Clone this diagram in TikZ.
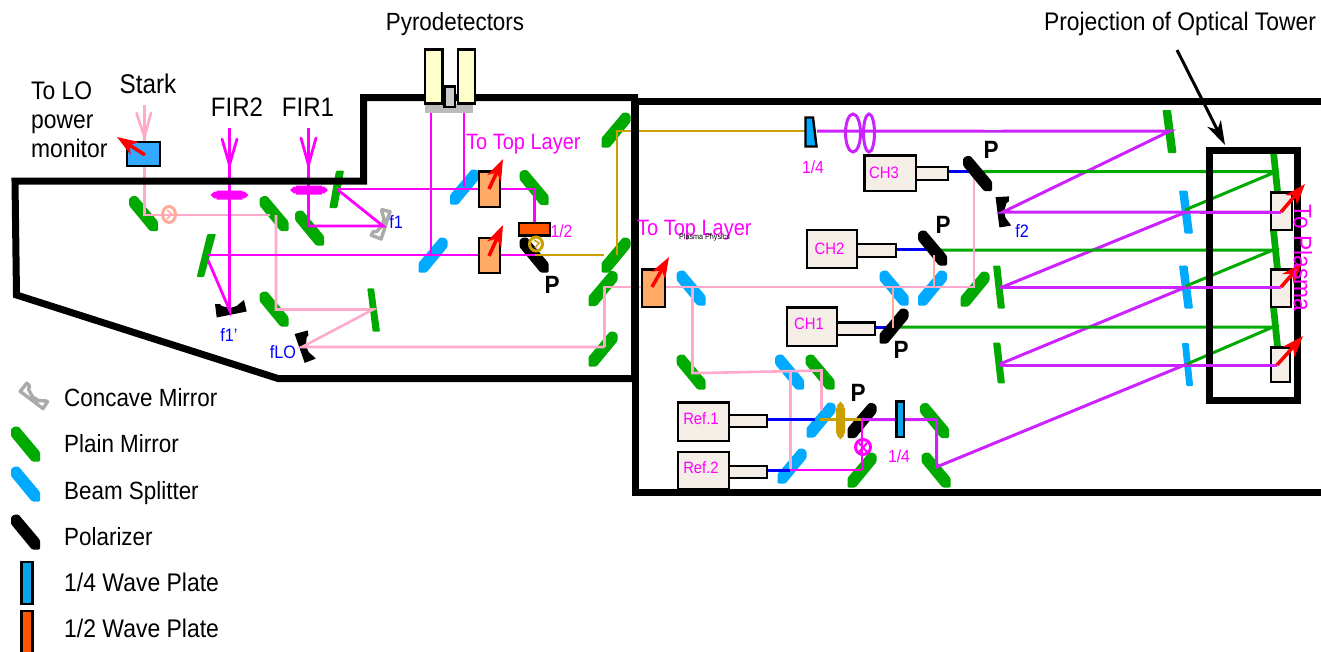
\documentclass[tikz,border=0pt]{standalone}
\usepackage{fontspec}
\setmainfont[FakeStretch=0.9]{Liberation Sans}
\usetikzlibrary{arrows.meta}
\definecolor{mgreen}{HTML}{00AA00}
\definecolor{mblue}{HTML}{00AAFF}
\definecolor{mpink}{HTML}{FFAACC}
\definecolor{mmag}{HTML}{FF00FF}
\definecolor{mpur}{HTML}{CC22FF}
\definecolor{mgold}{HTML}{CCA000}
\definecolor{msal}{HTML}{FFAA99}
\definecolor{mor}{HTML}{FFAA66}
\definecolor{mbei}{HTML}{F5EEE6}
\definecolor{mhalf}{HTML}{FF5500}
\definecolor{mqw}{HTML}{0AA5E8}
\definecolor{mpyro}{HTML}{FFFFCC}
\definecolor{mgray}{HTML}{AAAAAA}
\definecolor{mstark}{HTML}{33AAFF}
\tikzset{
  x=1pt,y=-1pt,
  wall/.style={line width=7pt,draw=black,miter limit=10},
  pk/.style={line width=2.6pt,draw=mpink},
  mg/.style={line width=2.8pt,draw=mmag},
  pu/.style={line width=3pt,draw=mpur},
  gr/.style={line width=3pt,draw=mgreen},
  go/.style={line width=2.8pt,draw=mgold},
  bl/.style={line width=3pt,draw=blue},
  sa/.style={line width=2.6pt,draw=msal},
  redarr/.style={line width=3.5pt,draw=red,-{Stealth[length=21pt,width=15pt,inset=6pt]}},
  boxed/.style={draw=black,line width=2.4pt},
  lab/.style={font=\fontsize{24.9}{28}\selectfont,inner sep=0pt,anchor=base},
  leg/.style={lab,anchor=base west},
  mglab/.style={font=\fontsize{22.2}{26}\selectfont,text=mmag,inner sep=0pt,anchor=base west},
  small/.style={font=\fontsize{17.5}{20}\selectfont,text=mmag,inner sep=0pt},
  chlab/.style={font=\fontsize{16.5}{19}\selectfont,text=mmag,inner sep=0pt},
  blab/.style={font=\fontsize{18}{21}\selectfont,text=blue,inner sep=0pt},
  plab/.style={font=\fontsize{25}{28}\selectfont\bfseries,inner sep=0pt},
  band/.pic={\fill[#1,rounded corners=1.2pt] (-14.5,-15)--(-11,-17.5)--(-7,-17.5)--(14.5,8)--(14.5,17.5)--(6.5,17.5)--(-14.5,-8)--cycle;},
  bandv/.pic={\fill[#1,rounded corners=1pt] (-7,-21.5)--(1.5,-21.5)--(7,21.5)--(-1.5,21.5)--cycle;},
  concave/.pic={\fill[#1] (-16,-5)--(-14.3,8.5)--(15.7,2.5)--(13,-9)--(10.7,-7.3)--(5.7,-3)--(-1,-1)--(-9.3,-3)--(-11,-5)--cycle;},
  concaveg/.pic={\draw[#1,line width=3.4pt,line join=round] (-15,-4)--(-13.5,6.5)--(14.7,1)--(12.5,-7)--(10.7,-6)--(5.7,-1)--(-1,1)--(-9.3,-1)--(-11,-4)--cycle;},
  flatlens/.pic={\fill[#1] (-19,0)--(-15,-3.5)--(-13,-3)--(-13,-4.5)--(13,-4.5)--(13,-3)--(15,-3.5)--(19,0)--(15,3.5)--(13,3)--(13,4.5)--(-13,4.5)--(-13,3)--(-15,3.5)--cycle;},
}
\begin{document}
\begin{tikzpicture}
\useasboundingbox (0,0) rectangle (1321,651);

% legend symbols
\pic[rotate=-48] at (34,397) {concaveg=mgray};
\pic at (25.5,444) {band=mgreen};
\pic at (25.5,484) {band=mblue};
\pic at (25.5,532) {band=black};
\draw[boxed,fill=mqw] (21.5,562) rectangle (32.5,604);
\draw[boxed,fill=mhalf] (21.5,611) rectangle (32.5,655);

% optical elements, left room
\pic at (143.5,213.5) {band=mgreen};
\pic at (274,213.5) {band=mgreen};
\pic at (309.5,228) {band=mgreen};
\pic at (274,309) {band=mgreen};
\pic at (534,187.5) {band=mgreen};
\pic[xscale=-1] at (616,130) {band=mgreen};
\pic[xscale=-1] at (616,255) {band=mgreen};
\pic[xscale=-1] at (603,288.5) {band=mgreen};
\pic[xscale=-1] at (603,349) {band=mgreen};
\fill[mgreen,rounded corners=1pt] (207.3,234)--(216,234)--(204,277)--(196.7,277)--cycle;
\fill[mgreen,rounded corners=1pt] (336,170.7)--(344,170.7)--(337.3,208)--(329.3,208)--cycle;
\fill[mgreen,rounded corners=1pt] (367.3,288.3)--(374,288.3)--(380,331.7)--(372.7,331.7)--cycle;
\pic[xscale=-1] at (464.5,187) {band=mblue};
\pic[xscale=-1] at (433,255) {band=mblue};
\pic at (534,255) {band=black};
\pic at (231,309) {concave=black};
\pic[rotate=-82] at (305,347) {concave=black};
\pic[rotate=61] at (382,224) {concaveg=mgray};
\pic at (229.5,195) {flatlens=mmag};
\pic at (309,190) {flatlens=mmag};

% optical elements, right room
\pic at (691,288) {band=mblue};
\pic at (691,372) {band=mgreen};
\pic at (789.5,372) {band=mblue};
\pic at (820,372) {band=mgreen};
\pic[xscale=-1] at (821,420) {band=mblue};
\pic[xscale=-1] at (792,466) {band=mblue};
\pic[xscale=-1] at (862,470) {band=mgreen};
\pic at (934.5,420.5) {band=mgreen};
\pic at (936,470) {band=mgreen};
\pic at (894,288) {band=mblue};
\pic[xscale=-1] at (932.5,288) {band=mblue};
\pic[xscale=-1] at (975,289) {band=mgreen};
\pic at (1169.5,131.5) {bandv=mgreen};
\pic[xscale=.85] at (999,287) {bandv=mgreen};
\pic[xscale=.85,yscale=.95] at (999,363) {bandv=mgreen};
\pic at (1186,212) {bandv=mblue};
\pic at (1186,287) {bandv=mblue};
\pic[xscale=.8] at (1187.5,364.5) {bandv=mblue};
\pic[xscale=.8] at (1275.5,172) {bandv=mgreen};
\pic[xscale=.8] at (1275.5,250) {bandv=mgreen};
\pic[xscale=.8] at (1275.5,327) {bandv=mgreen};
\pic[rotate=-94] at (1003,212) {concave=black};
\pic[rotate=90] at (840.5,420.5) {flatlens=mgold};

% beams: Stark and LO
\draw[pk] (144.5,105)--(144.5,142);
\draw[pk,line cap=round] (136.5,113)--(144.5,137)--(151,113);
\draw[pk] (144.5,166)--(144.5,215)--(270,215);
\draw[pk] (276,215)--(276,309.5)--(373,309.5)--(302,347)--(604.5,347);
\draw[pk] (604.5,347)--(604.5,287)--(973,287);
\draw[pk] (692.5,287)--(692.5,373)--(702,373)--(821.5,370.5)--(821.5,410);
\draw[pk] (790.5,371)--(790.5,470);
\draw[pk] (974,288)--(974,171);
\draw[sa] (934,255)--(934,287);
\draw[sa] (893,286)--(893,328);

% beams: FIR
\draw[mg] (229.5,128)--(229.5,310)--(208,260);
\draw[mg,line cap=round] (222,139)--(229.5,165)--(237,139);
\draw[mg] (308.5,128)--(308.5,226)--(383,226)--(338,190);
\draw[mg,line cap=round] (301,138)--(308.5,165)--(316,138);
\draw[mg] (208,255)--(535,255);
\draw[mg] (338,189)--(534.5,189)--(534.5,224);
\draw[mg] (431,112)--(431,255);
\draw[mg] (464,112)--(464,187);

% beams: gold
\draw[go] (534,255)--(604,255);
\draw[go] (617,255)--(617,131)--(805,131);

% beams: purple
\draw[pu] (817,131)--(1170,131)--(1003,212)--(1275,212);
\draw[pu] (861,419.5)--(936.5,419.5)--(936.5,467)--(1187,364);
\draw[pu] (1000,288)--(1186,212);
\draw[pu] (1000,287.5)--(1280,287.5);
\draw[pu] (1000,364)--(1186,287);
\draw[pu] (1000,365)--(1278,365);
\draw[white,line width=1.5pt] (984,129.4)--(1002,129.4);
\draw[mg] (790,470)--(862,470);

% beams: green
\draw[gr] (982,171.5)--(1273,171.5)--(1273,173)--(1185,210);
\draw[gr] (940,250)--(1273,250)--(1186,286);
\draw[gr] (897,327)--(1273,327)--(1187,364);

% beams: detector blue
\draw[bl] (767,419.5)--(815,419.5);
\draw[bl] (767,470)--(790,470);
\draw[bl] (896,249.5)--(930,249.5);
\draw[bl] (875,327)--(888,327);
\draw[bl] (948,171.5)--(970,171.5);

% polarizers on top of beams
\pic at (932.5,248) {band=black};
\pic[xscale=-1] at (894,326) {band=black};
\pic at (977.5,173.5) {band=black};
\pic[xscale=-1] at (862,420.5) {band=black};
\draw[go] (820,419.5)--(861,419.5);
\draw[pu] (861,419.5)--(880,419.5);
\draw[mg] (862,419.5)--(862,470);
\draw[sa] (893,286)--(893,328);
\draw[sa] (934,255)--(934,287);
\draw[pk] (974,288)--(974,180);
\draw[mg] (525,255)--(535,255);

% walls
\draw[wall] (363.5,97.5)--(634.5,97.5)--(634.5,378.5)--(278,378.5)--(16.5,295)--(15,181)--(363.5,181)--cycle;
\draw[wall] (1321,101)--(635,101)--(635,492)--(1321,492);
\draw[wall] (1209.5,150.5) rectangle (1297.5,400.5);

% pyrodetectors
\fill[mgray!80] (425,104) rectangle (473,113);
\draw[boxed,fill=mpyro] (425,49.5) rectangle (442.5,103.5);
\draw[boxed,fill=mpyro] (458,49.5) rectangle (475,103.5);
\draw[boxed,fill=black!20] (444.5,86.5) rectangle (455,107);

% half wave plate and rotating circles
\draw[boxed,fill=mhalf] (519,223) rectangle (550,235.5);
\draw[mgold,line width=3pt] (536,244) ellipse (6.5 and 7);
\draw[mgold,line width=1.5pt] (534,240)--(539,243)--(535,248);
\draw[msal,line width=3pt] (169,214.5) ellipse (6.5 and 8);
\draw[msal,line width=1.5pt] (167,210)--(172,214)--(167,219);
\draw[mmag,line width=3pt] (863,447) ellipse (7.5 and 7.5);
\draw[mmag,line width=2pt] (859,443)--(867,452) (867,443)--(859,452);

% lenses and plates
\draw[mpur,line width=3pt] (853,133) ellipse (7.5 and 19);
\draw[mpur,line width=3pt] (869,133) ellipse (5.5 and 19);
\draw[boxed,fill=mblue] (805.5,117.5)--(813,117.5)--(816.5,146.5)--(805.5,146.5)--cycle;
\draw[boxed,fill=mqw] (896.5,401.5) rectangle (904,437);

% boxes
\draw[boxed,fill=mstark] (127,142) rectangle (160,166);
\draw[boxed,fill=mor] (479,171.5) rectangle (500,207);
\draw[boxed,fill=mor] (479,238) rectangle (500,273);
\draw[boxed,fill=mor] (642,269.5) rectangle (665,307);
\draw[boxed,fill=mbei] (807,230) rectangle (857,268);
\draw[boxed,fill=mbei] (857,244) rectangle (896,257);
\draw[boxed,fill=mbei] (787,307.5) rectangle (837,346);
\draw[boxed,fill=mbei] (837,322.5) rectangle (875,335);
\draw[boxed,fill=mbei] (864.5,155.5) rectangle (916,191);
\draw[boxed,fill=mbei] (916,167) rectangle (948,180);
\draw[boxed,fill=mbei] (678,402.5) rectangle (729,441);
\draw[boxed,fill=mbei] (729,415) rectangle (767,427);
\draw[boxed,fill=mbei] (678,452) rectangle (729,489);
\draw[boxed,fill=mbei] (729,466) rectangle (767,478);
\draw[boxed,fill=mbei] (1271,192.5) rectangle (1292,230);
\draw[boxed,fill=mbei] (1271,269.5) rectangle (1291,307);
\draw[boxed,fill=mbei] (1271,347.5) rectangle (1290,382);
\draw[pu] (1200,212)--(1281,212);
\draw[pu] (1200,287.5)--(1281,287.5);
\draw[pu] (1200,365)--(1277,365);

% red arrows
\draw[redarr] (145,155)--(117,137);
\draw[redarr] (489,189)--(503,159);
\draw[redarr] (489,256)--(503,225);
\draw[redarr] (652,287)--(669,257);
\draw[redarr] (1281,212)--(1305,184);
\draw[redarr] (1281,287)--(1302,263);
\draw[redarr] (1277,365)--(1303,336);

% tower arrow
\draw[line width=3pt,-{Stealth[length=24pt,width=15pt,inset=7pt]}] (1177,50)--(1225,145);

% labels
\node[lab] (tPyro) at (455,30) {Pyrodetectors};
\node[lab,font=\fontsize{25.4}{28}\selectfont] (tProj) at (1180,30) {Projection of Optical Tower};
\node[lab,font=\fontsize{27}{30}\selectfont] (tStark) at (148,93) {Stark};
\node[lab,font=\fontsize{26.7}{30}\selectfont] (tFir2) at (237,116.7) {FIR2};
\node[lab,font=\fontsize{26.7}{30}\selectfont] (tFir1) at (308,116.7) {FIR1};
\node[leg,font=\fontsize{25.4}{28}\selectfont] (tLo1) at (31,99) {To LO};
\node[leg,font=\fontsize{25.4}{28}\selectfont] (tLo2) at (31,128) {power};
\node[leg,font=\fontsize{25.4}{28}\selectfont] (tLo3) at (31,157) {monitor};
\node[mglab] (tTop1) at (466,149) {To Top Layer};
\node[mglab] (tTop2) at (637,235) {To Top Layer};
\node[font=\fontsize{25.3}{28}\selectfont,text=mmag,inner sep=0pt,rotate=-90] (tPlasma) at (1303,258) {To Plasma};
\node[font=\fontsize{8}{9}\selectfont,inner sep=0pt] (tTiny) at (704.5,237) {Plasma Physics};
\node[small] (t12) at (561.5,231) {1/2};
\node[small] (t14a) at (813,167) {1/4};
\node[small] (t14b) at (899,456) {1/4};
\node[blab] (tf1) at (396,222) {f1};
\node[blab] (tf1p) at (229,335) {f1'};
\node[blab] (tflo) at (283,352) {fLO};
\node[blab] (tf2) at (1022,231) {f2};
\node[plab] (tP1) at (552,285) {P};
\node[plab] (tP2) at (991,150) {P};
\node[plab] (tP3) at (943,225) {P};
\node[plab] (tP4) at (901,350) {P};
\node[plab] (tP5) at (858,393) {P};
\node[chlab] (tCh3) at (884,173) {CH3};
\node[chlab] (tCh2) at (829.5,249) {CH2};
\node[chlab] (tCh1) at (809,324) {CH1};
\node[chlab] (tRef1) at (701,419) {Ref.1};
\node[chlab] (tRef2) at (701,468) {Ref.2};
\node[leg] (lg1) at (64,406.7) {Concave Mirror};
\node[leg] (lg2) at (64,452.7) {Plain Mirror};
\node[leg] (lg3) at (64,499.3) {Beam Splitter};
\node[leg] (lg4) at (64,545.7) {Polarizer};
\node[leg,font=\fontsize{25.5}{28}\selectfont] (lg5) at (64,591.7) {1/4 Wave Plate};
\node[leg,font=\fontsize{25.5}{28}\selectfont] (lg6) at (64,637.7) {1/2 Wave Plate};
\end{tikzpicture}
\end{document}
